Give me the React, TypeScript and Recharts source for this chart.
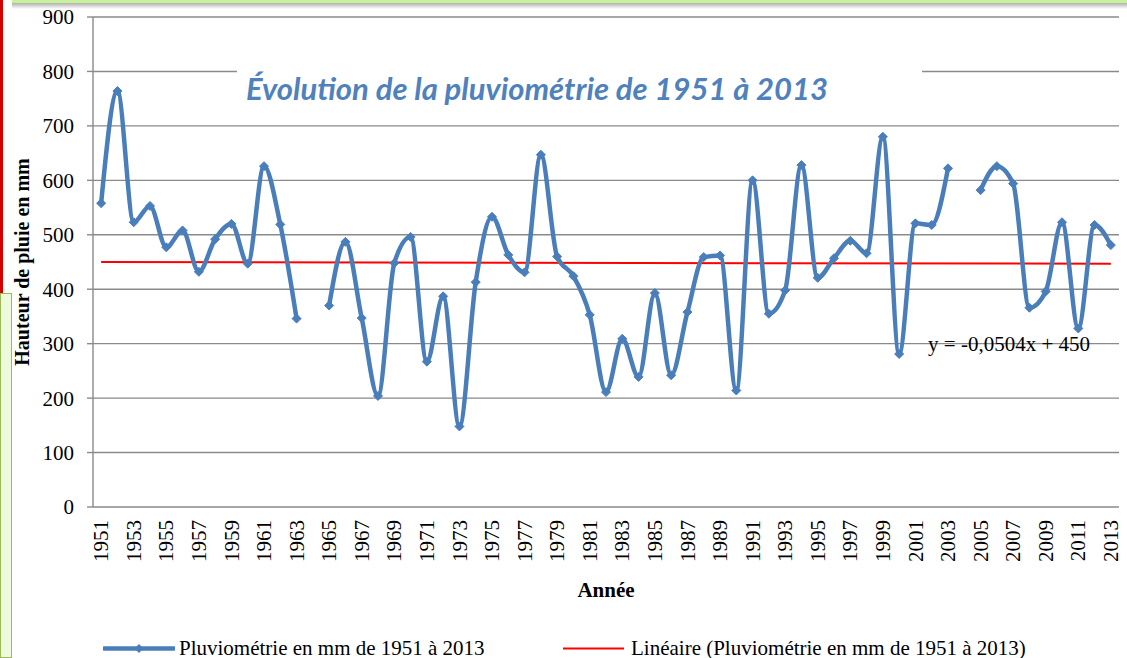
import { LineChart, Line, XAxis, YAxis, CartesianGrid, ReferenceLine, ReferenceDot } from 'recharts'

const YEARS = [
  1951, 1952, 1953, 1954, 1955, 1956, 1957, 1958, 1959, 1960,
  1961, 1962, 1963, 1964, 1965, 1966, 1967, 1968, 1969, 1970,
  1971, 1972, 1973, 1974, 1975, 1976, 1977, 1978, 1979, 1980,
  1981, 1982, 1983, 1984, 1985, 1986, 1987, 1988, 1989, 1990,
  1991, 1992, 1993, 1994, 1995, 1996, 1997, 1998, 1999, 2000,
  2001, 2002, 2003, 2004, 2005, 2006, 2007, 2008, 2009, 2010,
  2011, 2012, 2013,
]

// mm de pluie par année (null = pas de mesure)
const RAINFALL = [
  558, 764, 523, 553, 477, 508, 432, 492, 520, 447,
  626, 519, 346, null, 370, 487, 347, 204, 448, 496,
  267, 387, 148, 413, 533, 463, 431, 647, 460, 424,
  353, 211, 309, 239, 393, 242, 358, 459, 462, 214,
  600, 355, 398, 628, 421, 457, 489, 466, 680, 281,
  521, 518, 622, null, 582, 626, 594, 366, 396, 523,
  328, 518, 481,
]

const Y_TICKS = [0, 100, 200, 300, 400, 500, 600, 700, 800, 900]
const X_LABEL_TICKS = [
  1951, 1953, 1955, 1957, 1959, 1961, 1963, 1965, 1967, 1969, 1971,
  1973, 1975, 1977, 1979, 1981, 1983, 1985, 1987, 1989, 1991, 1993,
  1995, 1997, 1999, 2001, 2003, 2005, 2007, 2009, 2011, 2013,
]
const X_BOUNDARY_TICKS = YEARS.concat([2014]).map((y) => y - 0.5)

// droite de tendance : y = -0,0504x + 450
const TREND_START = 449.95
const TREND_END = 446.82
const TREND_LABEL = 'y = -0,0504x + 450'

const SERIES_NAME = 'Pluviométrie en mm de 1951 à 2013'
const TREND_NAME = 'Linéaire (Pluviométrie en mm de 1951 à 2013)'
const TITLE = 'Évolution de la pluviométrie de 1951 à 2013'

const BLUE = '#4A7EBB'
const GRID = '#8a8a8a'
const SERIF = "'Liberation Serif', 'Times New Roman', serif"
const serifText = { fontFamily: SERIF }

const data = YEARS.map((year, i) => ({ year, rain: RAINFALL[i] }))

function Diamond(props: any) {
  const { cx, cy, index } = props
  if (cx == null || cy == null || props.payload?.rain == null) return <g key={`d-${index}`} />
  const s = 4.5
  return (
    <path
      key={`d-${index}`}
      d={`M${cx},${cy - s} L${cx + s},${cy} L${cx},${cy + s} L${cx - s},${cy} Z`}
      fill={BLUE}
      stroke={BLUE}
      strokeWidth={1}
    />
  )
}

function YearTick(props: any) {
  const { x, y, payload } = props
  return (
    <text
      x={x}
      y={y}
      transform={`rotate(-90, ${x}, ${y})`}
      textAnchor="end"
      dy="0.34em"
      fontSize={21}
      style={serifText}
      fill="#000"
    >
      {payload.value}
    </text>
  )
}

export default function App() {
  return (
    <div
      style={{
        position: 'fixed',
        left: 0,
        top: 0,
        width: 1127,
        height: 658,
        background: '#fff',
        overflow: 'hidden',
        fontFamily: SERIF,
      }}
    >
      {/* bits of the slide around the chart */}
      <div style={{ position: 'absolute', left: 12, top: 0, width: 1115, height: 3, background: '#c9f09a' }} />
      <div
        style={{
          position: 'absolute',
          left: 12,
          top: 3,
          width: 1115,
          height: 6,
          background: 'linear-gradient(#b0b0b0, #ffffff)',
        }}
      />
      <div style={{ position: 'absolute', left: 0, top: 0, width: 3, height: 293, background: '#d40000' }} />
      <div
        style={{
          position: 'absolute',
          left: 0,
          top: 293,
          width: 12,
          height: 365,
          background: '#edfadc',
          border: '1.5px solid #9bbb59',
          boxSizing: 'border-box',
        }}
      />

      <LineChart
        width={1127}
        height={658}
        data={data}
        margin={{ top: 17, right: 8, left: 0, bottom: 61 }}
        style={serifText}
      >
        <CartesianGrid horizontal vertical={false} stroke={GRID} strokeWidth={1.4} xAxisId="years" />
        <XAxis
          xAxisId="grid"
          dataKey="year"
          type="number"
          domain={[1950.5, 2013.5]}
          allowDataOverflow
          ticks={X_BOUNDARY_TICKS}
          interval={0}
          height={0}
          tick={false}
          tickSize={6}
          stroke={GRID}
          tickLine={{ stroke: GRID, strokeWidth: 1.4 }}
          axisLine={{ stroke: GRID, strokeWidth: 1.4 }}
        />
        <XAxis
          xAxisId="years"
          dataKey="year"
          type="number"
          domain={[1950.5, 2013.5]}
          allowDataOverflow
          ticks={X_LABEL_TICKS}
          interval={0}
          height={90}
          tickSize={0}
          tickMargin={13}
          tickLine={false}
          axisLine={false}
          tick={<YearTick />}
          label={{
            value: 'Année',
            position: 'insideBottom',
            offset: 0,
            fill: '#000',
            fontSize: 21,
            fontWeight: 'bold',
            style: serifText,
          }}
        />
        <YAxis
          domain={[0, 900]}
          ticks={Y_TICKS}
          interval={0}
          width={93}
          tickSize={6}
          tickMargin={13}
          stroke={GRID}
          tickLine={{ stroke: GRID, strokeWidth: 1.4 }}
          axisLine={{ stroke: GRID, strokeWidth: 1.4 }}
          tick={{ fill: '#000', fontSize: 21, style: serifText }}
        />
        <ReferenceLine
          xAxisId="years"
          segment={[
            { x: YEARS[0], y: TREND_START },
            { x: YEARS[YEARS.length - 1], y: TREND_END },
          ]}
          stroke="#ff0000"
          strokeWidth={2}
          ifOverflow="visible"
        />
        <Line
          xAxisId="years"
          dataKey="rain"
          type="monotone"
          stroke={BLUE}
          strokeWidth={4.5}
          dot={<Diamond />}
          activeDot={false}
          connectNulls={false}
          isAnimationActive={false}
        />
        <ReferenceDot
          xAxisId="years"
          x={2006.75}
          y={300}
          r={0.5}
          fill="none"
          stroke="none"
          label={{ value: TREND_LABEL, position: 'center', fill: '#000', fontSize: 21, style: serifText }}
        />
      </LineChart>

      {/* chart title over the plot, with a white box hiding the grid behind it */}
      <div
        style={{
          position: 'absolute',
          left: 237,
          top: 52,
          width: 685,
          height: 72,
          background: '#fff',
          display: 'flex',
          alignItems: 'center',
          paddingLeft: 9,
          boxSizing: 'border-box',
          fontFamily: 'Lato, "Open Sans", sans-serif',
          fontStyle: 'italic',
          fontWeight: 'bold',
          fontSize: 31,
          color: '#4F81BD',
          whiteSpace: 'nowrap',
        }}
      >
        {TITLE}
      </div>

      {/* y axis title */}
      <div
        style={{
          position: 'absolute',
          left: 22,
          top: 262,
          transform: 'translate(-50%, -50%) rotate(-90deg)',
          fontWeight: 'bold',
          fontSize: 20,
          whiteSpace: 'nowrap',
          color: '#000',
        }}
      >
        Hauteur de pluie en mm
      </div>

      {/* legend */}
      <div style={{ position: 'absolute', left: 103, top: 648, transform: 'translateY(-50%)', display: 'flex', alignItems: 'center', fontSize: 21, whiteSpace: 'nowrap' }}>
        <svg width={72} height={12} style={{ marginRight: 4 }}>
          <line x1={1} y1={6} x2={71} y2={6} stroke={BLUE} strokeWidth={4.5} strokeLinecap="round" />
          <path d="M36,1.5 L40.5,6 L36,10.5 L31.5,6 Z" fill={BLUE} />
        </svg>
        <span>{SERIES_NAME}</span>
      </div>
      <div style={{ position: 'absolute', left: 563, top: 648, transform: 'translateY(-50%)', display: 'flex', alignItems: 'center', fontSize: 21, whiteSpace: 'nowrap' }}>
        <svg width={61} height={6} style={{ marginRight: 7 }}>
          <line x1={0} y1={3} x2={61} y2={3} stroke="#ff0000" strokeWidth={2} />
        </svg>
        <span>{TREND_NAME}</span>
      </div>
    </div>
  )
}
